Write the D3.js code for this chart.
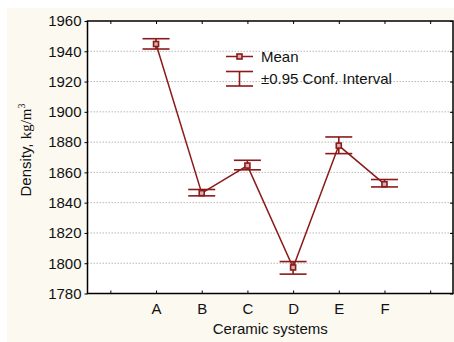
<!DOCTYPE html>
<html>
<head>
<meta charset="utf-8">
<script src="https://cdn.jsdelivr.net/npm/d3@7/dist/d3.min.js"></script>
<style>
  html, body { margin: 0; padding: 0; background: #ffffff; }
  svg { display: block; }
  text { font-family: "Liberation Sans", Arial, sans-serif; fill: #111; }
</style>
</head>
<body>
<svg id="chart" width="454" height="342"></svg>
<script>
// Ceramic systems and their measured densities (kg/m3)
const categories = ["A", "B", "C", "D", "E", "F"];
const means      = [1944.8, 1846.3, 1864.5, 1797.2, 1877.7, 1852.2];
const ciLower    = [1941.5, 1844.5, 1861.7, 1792.8, 1872.4, 1850.4];
const ciUpper    = [1948.3, 1848.7, 1868.0, 1801.1, 1883.4, 1855.3];
const yTicks     = [1780, 1800, 1820, 1840, 1860, 1880, 1900, 1920, 1940, 1960];

const W = 454, H = 342;
const margin = { left: 87.5, top: 21, right: 1, bottom: 48.5 };
const color = "#8b1a1a";
const markerFill = "#d9b3b3";
const fs = 15;

const svg = d3.select("#chart");

// panel background
svg.append("rect").attr("x", 7).attr("y", 8).attr("width", W - 7).attr("height", H - 8)
  .attr("fill", "#fcf9f1");

const x0 = margin.left, x1 = W - margin.right, y0 = margin.top, y1 = H - margin.bottom;

// one empty slot either side of the categories
const slots = ["_l", ...categories, "_r"];
const x = d3.scalePoint().domain(slots).range([x0, x1]).padding(0.5);
const y = d3.scaleLinear().domain([1780, 1960]).range([y1, y0]);

const data = categories.map((c, i) => ({ c, m: means[i], lo: ciLower[i], hi: ciUpper[i] }));

// plot area
svg.append("rect").attr("x", x0).attr("y", y0).attr("width", x1 - x0).attr("height", y1 - y0)
  .attr("fill", "#ffffff");

// dotted horizontal grid
svg.append("g").selectAll("line").data(yTicks.filter(v => v > 1780 && v < 1960)).join("line")
  .attr("x1", x0).attr("x2", x1).attr("y1", d => y(d)).attr("y2", d => y(d))
  .attr("stroke", "#b8b8b8").attr("stroke-width", 1).attr("stroke-dasharray", "1.5,1.5");

// left axis with labels
const yAxis = d3.axisLeft(y).tickValues(yTicks).tickSize(3).tickPadding(3).tickFormat(d3.format("d"));
const gy = svg.append("g").attr("transform", `translate(${x0},0)`).call(yAxis);
gy.select(".domain").remove();
gy.selectAll("line").attr("stroke", "#000");
gy.selectAll("text").attr("font-size", fs).attr("font-family", "Liberation Sans, Arial, sans-serif").attr("fill", "#111");

// right axis ticks (inward)
const gyr = svg.append("g").attr("transform", `translate(${x1},0)`)
  .call(d3.axisRight(y).tickValues(yTicks).tickSize(-3).tickFormat(""));
gyr.select(".domain").remove();
gyr.selectAll("line").attr("stroke", "#000");

// bottom axis with category labels, ticks inward
const xAxis = d3.axisBottom(x).tickSize(-3).tickPadding(10)
  .tickFormat(d => categories.includes(d) ? d : "");
const gx = svg.append("g").attr("transform", `translate(0,${y1})`).call(xAxis);
gx.select(".domain").remove();
gx.selectAll("line").attr("stroke", "#000");
gx.selectAll("text").attr("font-size", fs).attr("font-family", "Liberation Sans, Arial, sans-serif").attr("fill", "#111");

// top axis ticks (inward)
const gxt = svg.append("g").attr("transform", `translate(0,${y0})`)
  .call(d3.axisTop(x).tickSize(-3).tickFormat(""));
gxt.select(".domain").remove();
gxt.selectAll("line").attr("stroke", "#000");

// frame
svg.append("rect").attr("x", x0).attr("y", y0).attr("width", x1 - x0).attr("height", y1 - y0)
  .attr("fill", "none").attr("stroke", "#000").attr("stroke-width", 1.5);

// connecting line through the means
svg.append("path").datum(data)
  .attr("d", d3.line().x(d => x(d.c)).y(d => y(d.m)))
  .attr("fill", "none").attr("stroke", color).attr("stroke-width", 1.5);

// confidence interval whiskers
const capW = 13.5;
const eb = svg.append("g").attr("stroke", color).attr("stroke-width", 1.6).attr("fill", "none");
eb.selectAll(".v").data(data).join("line")
  .attr("x1", d => x(d.c)).attr("x2", d => x(d.c)).attr("y1", d => y(d.lo)).attr("y2", d => y(d.hi));
eb.selectAll(".t").data(data).join("line")
  .attr("x1", d => x(d.c) - capW).attr("x2", d => x(d.c) + capW).attr("y1", d => y(d.hi)).attr("y2", d => y(d.hi));
eb.selectAll(".b").data(data).join("line")
  .attr("x1", d => x(d.c) - capW).attr("x2", d => x(d.c) + capW).attr("y1", d => y(d.lo)).attr("y2", d => y(d.lo));

// mean markers
svg.append("g").selectAll("rect").data(data).join("rect")
  .attr("x", d => x(d.c) - 2.5).attr("y", d => y(d.m) - 2.5).attr("width", 5).attr("height", 5)
  .attr("fill", markerFill).attr("stroke", color).attr("stroke-width", 1.6);

// legend
const lg = svg.append("g");
const lx = 226, lw = 27;
lg.append("line").attr("x1", lx).attr("x2", lx + lw).attr("y1", 56.5).attr("y2", 56.5)
  .attr("stroke", color).attr("stroke-width", 1.5);
lg.append("rect").attr("x", lx + lw / 2 - 2.5).attr("y", 54).attr("width", 5).attr("height", 5)
  .attr("fill", markerFill).attr("stroke", color).attr("stroke-width", 1.6);
lg.append("text").attr("x", 261).attr("y", 62).attr("font-size", fs).text("Mean");
lg.append("line").attr("x1", lx).attr("x2", lx + lw).attr("y1", 71.5).attr("y2", 71.5)
  .attr("stroke", color).attr("stroke-width", 1.6);
lg.append("line").attr("x1", lx).attr("x2", lx + lw).attr("y1", 86).attr("y2", 86)
  .attr("stroke", color).attr("stroke-width", 1.6);
lg.append("line").attr("x1", lx + lw / 2).attr("x2", lx + lw / 2).attr("y1", 71.5).attr("y2", 86)
  .attr("stroke", color).attr("stroke-width", 1.6);
lg.append("text").attr("x", 261).attr("y", 83.5).attr("font-size", fs).text("±0.95 Conf. Interval");

// axis titles
svg.append("text").attr("x", (x0 + x1) / 2).attr("y", 334).attr("text-anchor", "middle")
  .attr("font-size", fs).text("Ceramic systems");

const yt = svg.append("text").attr("transform", "translate(31,150) rotate(-90)")
  .attr("text-anchor", "middle").attr("font-size", fs);
yt.append("tspan").text("Density, ");
yt.append("tspan").attr("font-family", "Liberation Serif, Times New Roman, serif").text("kg/m");
yt.append("tspan").attr("font-family", "Liberation Serif, Times New Roman, serif")
  .attr("font-size", 10).attr("dy", -6).text("3");
</script>
</body>
</html>
